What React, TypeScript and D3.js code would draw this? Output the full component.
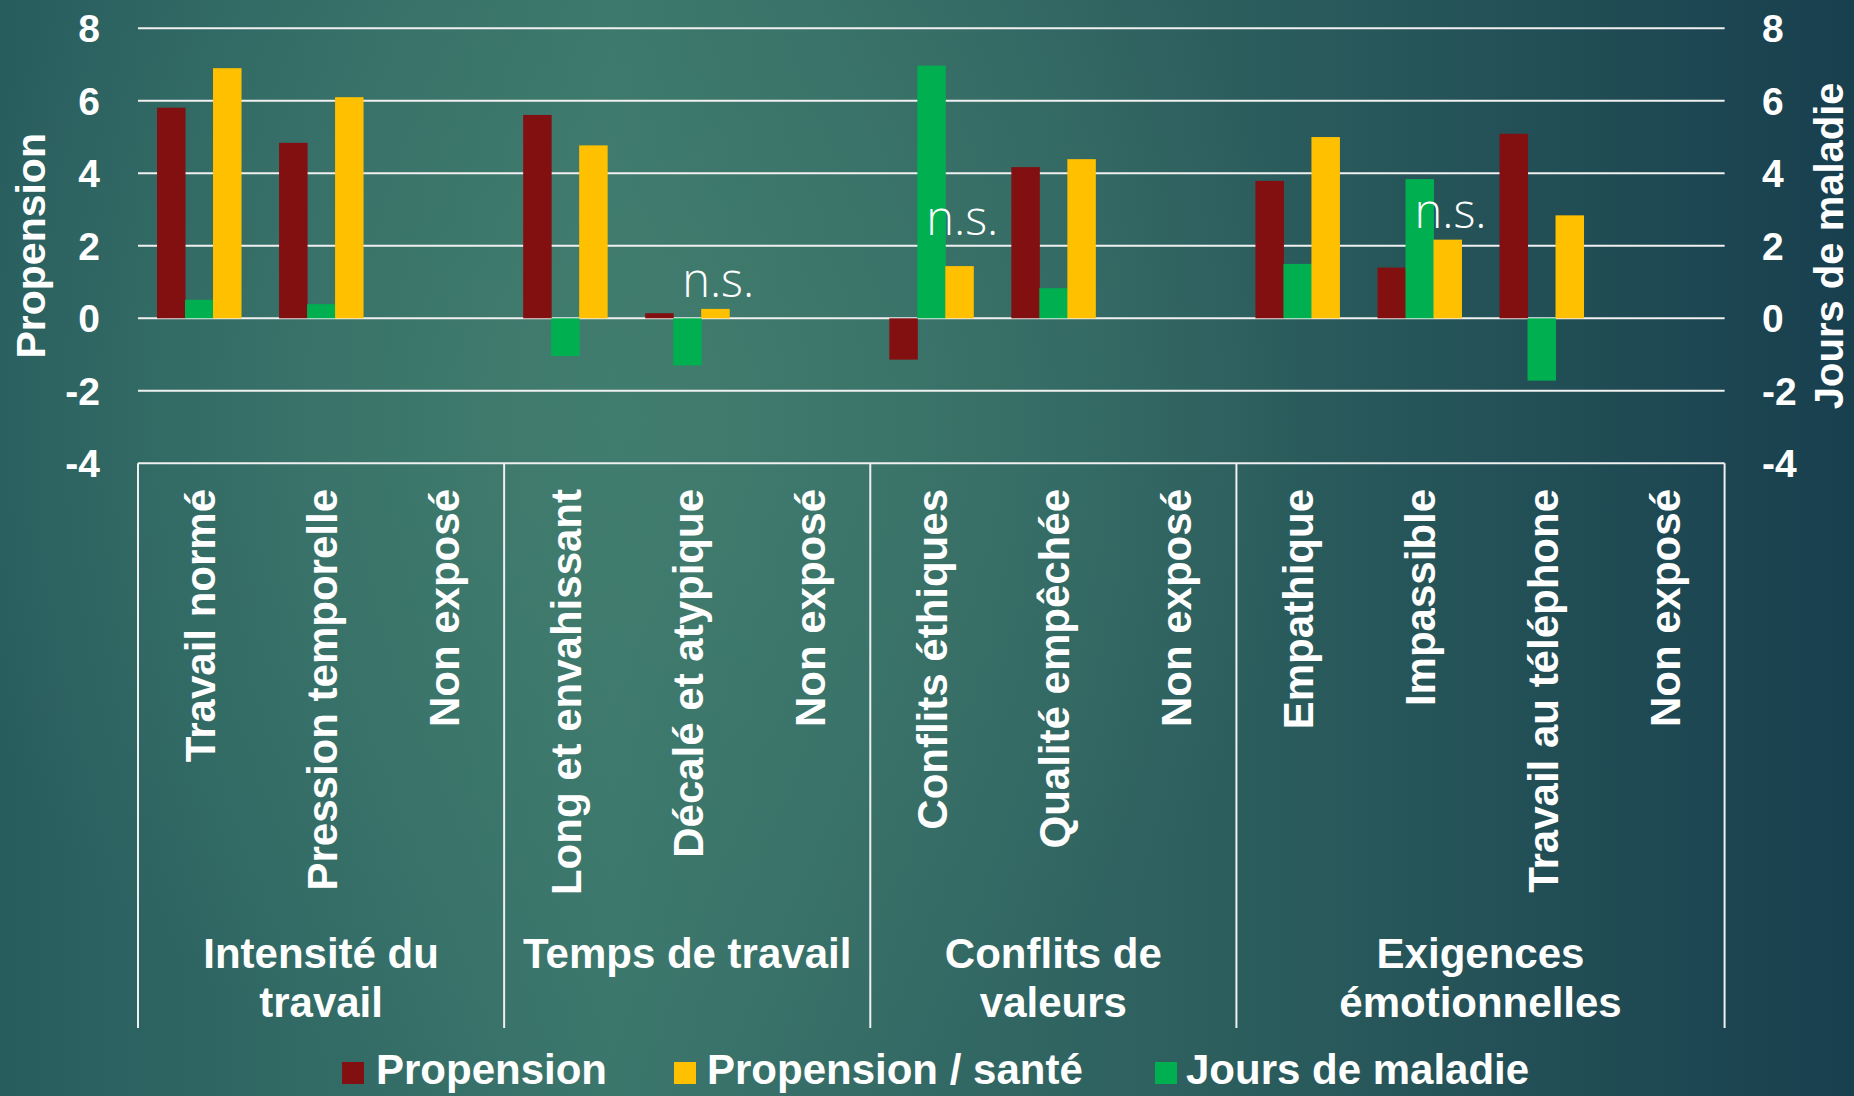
import React from "react";
import * as d3 from "d3";

const categories = [
  "Travail normé", "Pression temporelle", "Non exposé",
  "Long et envahissant", "Décalé et atypique", "Non exposé",
  "Conflits éthiques", "Qualité empêchée", "Non exposé",
  "Empathique", "Impassible", "Travail au téléphone", "Non exposé",
];
const groupLabels = [["Intensité du", "travail"], ["Temps de travail"], ["Conflits de", "valeurs"], ["Exigences", "émotionnelles"]];
const groupSizes = [3, 3, 3, 4];

const propension = [5.81, 4.84, null, 5.61, 0.14, null, -1.14, 4.17, null, 3.79, 1.40, 5.09, null];
const propSante = [6.90, 6.10, null, 4.77, 0.26, null, 1.44, 4.39, null, 5.00, 2.17, 2.84, null];
const joursMaladie = [0.51, 0.39, null, -1.04, -1.30, null, 6.97, 0.83, null, 1.50, 3.84, -1.72, null];

const seriesNames = ["Propension", "Jours de maladie", "Propension / santé"];
const legendOrder = ["Propension", "Propension / santé", "Jours de maladie"];
const seriesColors: Record<string, string> = {
  "Propension": "#831010",
  "Propension / santé": "#ffc000",
  "Jours de maladie": "#00b050",
};
const seriesValues: Record<string, (number | null)[]> = {
  "Propension": propension,
  "Propension / santé": propSante,
  "Jours de maladie": joursMaladie,
};

const ticks = [-4, -2, 0, 2, 4, 6, 8];
const nsNotes = [
  { cat: 4, y: 0.6 },
  { cat: 6, y: 2.3 },
  { cat: 10, y: 2.5 },
];

const W = 1854, H = 1096;
const FONT = "'Liberation Sans', Arial, sans-serif";

export default function App() {
  const left = 138, right = 1724.6, top = 28.3, bottom = 463.3;
  const y = d3.scaleLinear().domain([-4, 8]).range([bottom, top]);
  const x0 = d3.scaleBand<number>().domain(d3.range(categories.length)).range([left, right]).paddingInner(0).paddingOuter(0);
  const bw = x0.bandwidth();
  const groupW = 84;
  const x1 = d3.scaleBand<string>().domain(seriesNames).range([0, groupW]);
  const off = (bw - groupW) / 2;

  const bounds: number[] = [0];
  groupSizes.forEach((s) => bounds.push(bounds[bounds.length - 1] + s));
  const bx = (i: number) => (i >= categories.length ? right : (x0(i) as number));

  const legendItems = [
    { name: legendOrder[0], sq: 342, tx: 376 },
    { name: legendOrder[1], sq: 674, tx: 707 },
    { name: legendOrder[2], sq: 1155, tx: 1186 },
  ];

  return (
    <svg width={W} height={H} style={{ position: "absolute", left: 0, top: 0 }} fontFamily={FONT}>
      <defs>
        <linearGradient id="bgl" x1="0" y1="0" x2="1" y2="0">
          <stop offset="0" stopColor="#285d5e" />
          <stop offset="0.33" stopColor="#3b766c" />
          <stop offset="0.7" stopColor="#2a5b5c" />
          <stop offset="1" stopColor="#183f4e" />
        </linearGradient>
        <radialGradient id="bgr" cx="620" cy="420" r="700" gradientUnits="userSpaceOnUse">
          <stop offset="0" stopColor="#44806f" stopOpacity="0.7" />
          <stop offset="1" stopColor="#44806f" stopOpacity="0" />
        </radialGradient>
      </defs>
      <rect x={0} y={0} width={W} height={H} fill="url(#bgl)" />
      <rect x={0} y={0} width={W} height={H} fill="url(#bgr)" />

      {ticks.map((t) => (
        <line key={t} x1={left} x2={right} y1={y(t)} y2={y(t)} stroke="#f0f0f0" strokeWidth={2} />
      ))}

      {categories.map((c, i) =>
        seriesNames.map((s) => {
          const v = seriesValues[s][i];
          if (v === null || v === undefined) return null;
          const bx0 = (x0(i) as number) + off + (x1(s) as number);
          const y0 = y(0), yv = y(v);
          return (
            <rect key={i + s} x={bx0} width={x1.bandwidth() + 0.5} y={Math.min(y0, yv)} height={Math.abs(yv - y0)} fill={seriesColors[s]} />
          );
        })
      )}

      {nsNotes.map((n, k) => (
        <text key={k} x={(x0(n.cat) as number) + off + (x1("Propension / santé") as number) + x1.bandwidth() / 2 + 3} y={y(n.y)}
          textAnchor="middle" fill="#ffffff" fontSize={47} fontWeight={300} fontFamily="'Open Sans', sans-serif">n.s.</text>
      ))}

      {ticks.map((t) => (
        <text key={"l" + t} x={100} y={y(t) + 14} textAnchor="end" fill="#fff" fontWeight="bold" fontSize={39}>{t}</text>
      ))}
      {ticks.map((t) => (
        <text key={"r" + t} x={1762} y={y(t) + 14} textAnchor="start" fill="#fff" fontWeight="bold" fontSize={39}>{t}</text>
      ))}

      <text transform={`translate(45,${(top + bottom) / 2}) rotate(-90)`} textAnchor="middle" fill="#fff" fontWeight="bold" fontSize={41}>Propension</text>
      <text transform={`translate(1843,${(top + bottom) / 2}) rotate(-90)`} textAnchor="middle" fill="#fff" fontWeight="bold" fontSize={40}>Jours de maladie</text>

      {bounds.map((b, k) => (
        <line key={"b" + k} x1={bx(b)} x2={bx(b)} y1={bottom} y2={1028} stroke="#f0f0f0" strokeWidth={2} />
      ))}

      {categories.map((c, i) => (
        <text key={"c" + i} transform={`translate(${(x0(i) as number) + bw / 2 + 16},489) rotate(-90)`} textAnchor="end" fill="#fff" fontWeight="bold" fontSize={42}>{c}</text>
      ))}

      {groupLabels.map((lines, g) => {
        const cx = (bx(bounds[g]) + bx(bounds[g + 1])) / 2;
        return (
          <text key={"g" + g} textAnchor="middle" fill="#fff" fontWeight="bold" fontSize={42}>
            {lines.map((l, j) => (
              <tspan key={j} x={cx} y={968 + j * 49}>{l}</tspan>
            ))}
          </text>
        );
      })}

      {legendItems.map((it) => (
        <g key={it.name}>
          <rect x={it.sq} y={1062} width={22} height={22} fill={seriesColors[it.name]} />
          <text x={it.tx} y={1084} fill="#fff" fontWeight="bold" fontSize={42}>{it.name}</text>
        </g>
      ))}
    </svg>
  );
}
